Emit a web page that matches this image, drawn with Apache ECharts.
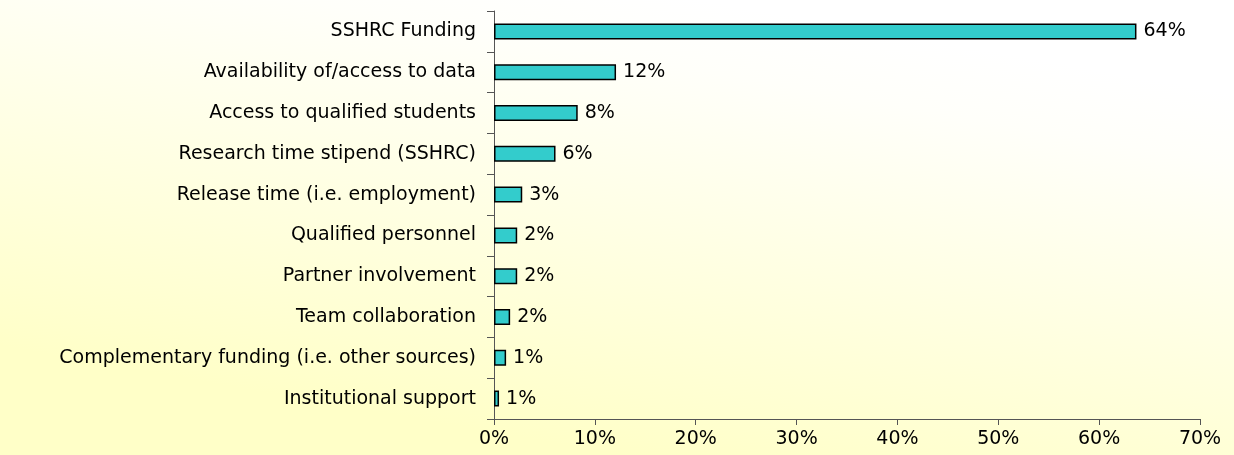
<!DOCTYPE html>
<html>
<head>
<meta charset="utf-8">
<script src="https://cdn.jsdelivr.net/npm/echarts@6/dist/echarts.min.js"></script>
<style>
  html, body { margin: 0; padding: 0; }
  #chart { width: 1234px; height: 455px; }
</style>
</head>
<body>
<div id="chart"></div>
<script>
// Categories, top to bottom
const categories = [
  "SSHRC Funding",
  "Availability of/access to data",
  "Access to qualified students",
  "Research time stipend (SSHRC)",
  "Release time (i.e. employment)",
  "Qualified personnel",
  "Partner involvement",
  "Team collaboration",
  "Complementary funding (i.e. other sources)",
  "Institutional support"
];
// Bar lengths (percent)
const values = [63.7, 12.1, 8.3, 6.1, 2.8, 2.3, 2.3, 1.6, 1.2, 0.5];
// Printed labels next to the bars
const valueLabels = ["64%", "12%", "8%", "6%", "3%", "2%", "2%", "2%", "1%", "1%"];

const FONT = "DejaVu Sans";

const chart = echarts.init(document.getElementById("chart"));

chart.setOption({
  animation: false,
  // pale wash: white at the top, light yellow at the bottom
  backgroundColor: new echarts.graphic.LinearGradient(700, 0, 620, 455, [
    { offset: 0, color: "#ffffff" },
    { offset: 0.15, color: "#fffffa" },
    { offset: 1, color: "#ffffc8" }
  ], true),
  grid: { left: 494, right: 34, top: 11, bottom: 36 },
  xAxis: {
    type: "value",
    min: 0,
    max: 70,
    interval: 10,
    axisLine: { show: true, lineStyle: { color: "#555", width: 1 } },
    axisTick: { show: true, length: 6, lineStyle: { color: "#555" } },
    splitLine: { show: false },
    axisLabel: {
      formatter: "{value}%",
      color: "#000",
      fontFamily: FONT,
      fontSize: 19,
      margin: 11
    }
  },
  yAxis: {
    type: "category",
    inverse: true,
    data: categories,
    axisLine: { show: true, lineStyle: { color: "#555", width: 1 } },
    axisTick: { show: true, length: 7, lineStyle: { color: "#555" } },
    axisLabel: {
      color: "#000",
      fontFamily: FONT,
      fontSize: 19,
      margin: 18
    }
  },
  series: [{
    type: "bar",
    data: values,
    barWidth: 16,
    itemStyle: { color: "#33cccc", borderColor: "#000", borderWidth: 1.5 },
    label: {
      show: true,
      position: "right",
      distance: 7,
      color: "#000",
      fontFamily: FONT,
      fontSize: 19,
      formatter: p => valueLabels[p.dataIndex]
    }
  }]
});
</script>
</body>
</html>
